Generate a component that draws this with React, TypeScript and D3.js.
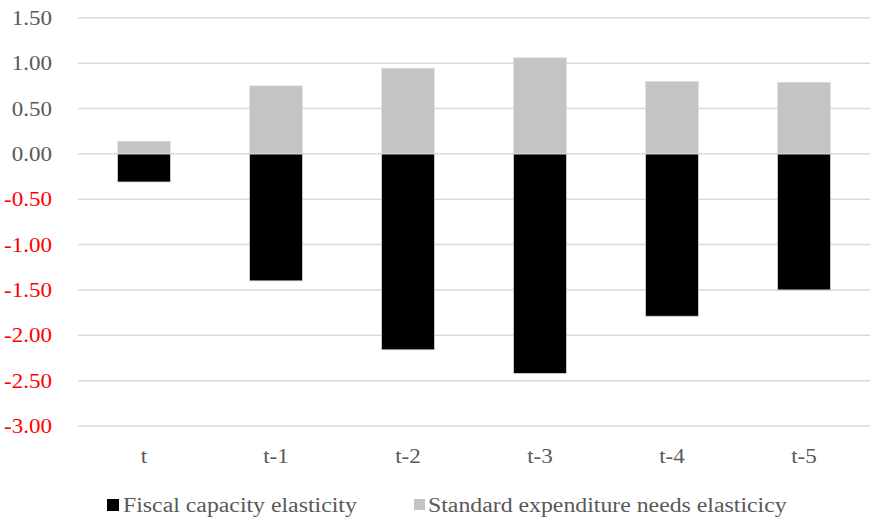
import React from "react";
import * as d3 from "d3";

const categories = ["t", "t-1", "t-2", "t-3", "t-4", "t-5"];
const fiscalCapacity = [-0.31, -1.4, -2.16, -2.42, -1.79, -1.5];
const standardExpenditure = [0.14, 0.75, 0.945, 1.06, 0.8, 0.79];
const yTicks = [1.5, 1.0, 0.5, 0.0, -0.5, -1.0, -1.5, -2.0, -2.5, -3.0];
const seriesNames = ["Fiscal capacity elasticity", "Standard expenditure needs elasticicy"];

const W = 874;
const H = 523;
const FONT = "'Liberation Serif', 'Times New Roman', serif";

const fmt = (v: number) => (v < 0 ? "-" : "") + Math.abs(v).toFixed(2);

export default function App() {
  const x = d3.scaleBand<string>().domain(categories).range([78, 870]).paddingInner(0.6).paddingOuter(0.3);
  const y = d3.scaleLinear().domain([-3, 1.5]).range([426, 17.8]);
  const bw = x.bandwidth();

  return (
    <svg width={W} height={H} style={{ position: "absolute", left: 0, top: 0, background: "#fff" }}>
      {yTicks.map((t) => (
        <g key={t}>
          <line x1={78} x2={870} y1={y(t)} y2={y(t)} stroke="#d9d9d9" strokeWidth={1.5} />
          <text
            transform={`translate(52,${y(t) + 7}) scale(1.15,1)`}
            textAnchor="end"
            fontFamily={FONT}
            fontSize={20}
            fill={t < 0 ? "#ff0000" : "#595959"}
          >
            {fmt(t)}
          </text>
        </g>
      ))}
      {categories.map((c, i) => (
        <g key={c}>
          <rect
            x={x(c)}
            y={y(0)}
            width={bw}
            height={y(fiscalCapacity[i]) - y(0)}
            fill="#000"
            stroke="#d0d0d0"
            strokeWidth={0.8}
          />
          <rect
            x={x(c)}
            y={y(standardExpenditure[i])}
            width={bw}
            height={y(0) - y(standardExpenditure[i])}
            fill="#c4c4c4"
            stroke="#e0e0e0"
            strokeWidth={0.8}
          />
          <text
            transform={`translate(${(x(c) as number) + bw / 2},463) scale(1.15,1)`}
            textAnchor="middle"
            fontFamily={FONT}
            fontSize={20}
            fill="#595959"
          >
            {c}
          </text>
        </g>
      ))}
      <rect x={107} y={499} width={12} height={12} fill="#000" />
      <text transform="translate(123,512) scale(1.19,1)" fontFamily={FONT} fontSize={20} fill="#595959">
        {seriesNames[0]}
      </text>
      <rect x={414} y={499} width={11} height={11} fill="#c4c4c4" />
      <text transform="translate(428,512) scale(1.19,1)" fontFamily={FONT} fontSize={20} fill="#595959">
        {seriesNames[1]}
      </text>
    </svg>
  );
}
